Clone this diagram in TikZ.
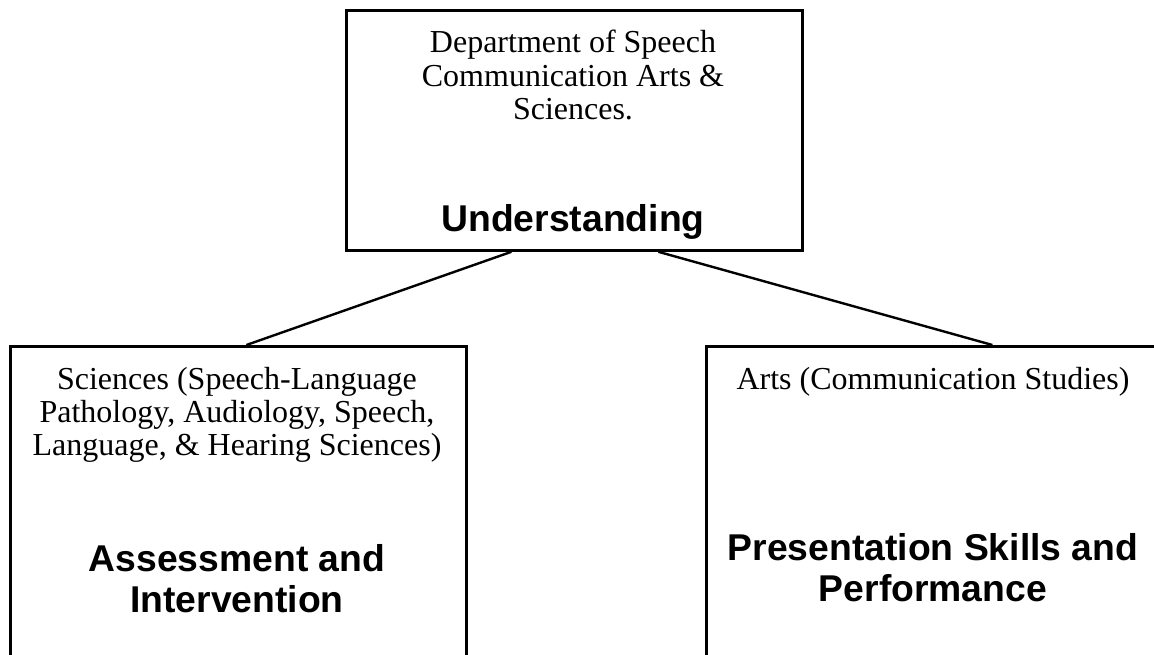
\documentclass[tikz,border=0pt]{standalone}
\usepackage{fontspec}
\setmainfont{Liberation Serif}
\newfontfamily\arialfont{Liberation Sans}
\begin{document}
\begin{tikzpicture}[x=1pt,y=-1pt,
  box/.style={draw=black,line width=2.8pt,inner sep=0pt,anchor=north west},
  small/.style={font=\fontsize{32}{34}\selectfont,anchor=base,inner sep=0pt},
  big/.style={font=\arialfont\bfseries\fontsize{37.3}{41}\selectfont,anchor=base,inner sep=0pt},
  link/.style={draw=black,line width=2.4pt}]
\useasboundingbox (0,0) rectangle (1154,654);
\clip (0,0) rectangle (1154,654);
% boxes
\node[box,minimum width=456pt,minimum height=240pt] (top) at (345,9) {};
\node[box,minimum width=456pt,minimum height=360pt] (left) at (9,345) {};
\node[box,minimum width=456pt,minimum height=360pt] (right) at (705,345) {};
% top box text
\node[small] (t1) at (573,52) {Department of Speech};
\node[small] (t2) at (573,86) {Communication Arts \&};
\node[small] (t3) at (573,119) {Sciences.};
\node[big] (t4) at (573,231) {Understanding};
% left box text
\node[small] (l1) at (237,389) {Sciences (Speech-Language};
\node[small] (l2) at (237,422) {Pathology, Audiology, Speech,};
\node[small] (l3) at (237,455) {Language, \& Hearing Sciences)};
\node[big] (l4) at (237,571) {Assessment and};
\node[big] (l5) at (237,612) {Intervention};
% right box text
\node[small] (r1) at (933,389) {Arts (Communication Studies)};
\node[big] (r2) at (933,560) {Presentation Skills and};
\node[big] (r3) at (933,601) {Performance};
% connector end points on the box borders
\coordinate (tl) at ([xshift=-63pt]top.south);
\coordinate (tr) at ([xshift=84pt]top.south);
\coordinate (la) at ([xshift=8pt]left.north);
\coordinate (ra) at ([xshift=58pt]right.north);
\draw[link] (tl) -- (la);
\draw[link] (tr) -- (ra);
\end{tikzpicture}
\end{document}
